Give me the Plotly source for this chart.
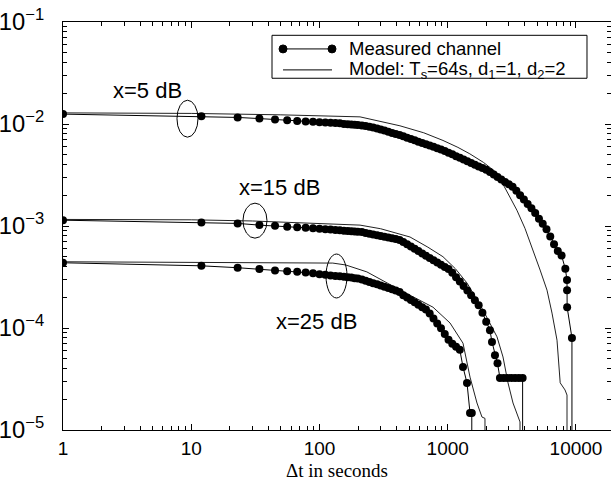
import math
import plotly.graph_objects as go

# ---------------- data ----------------
# Measured channel, x = 5 dB
t_meas_5 = [1, 12, 23, 34, 45, 56, 67, 78, 89, 100, 111, 122, 133, 144, 155, 166, 177, 188, 199,
            214, 229, 245, 262, 281, 300, 321, 344, 368, 393, 421, 450, 482, 516, 552, 590, 632,
            676, 723, 774, 828, 886, 948, 1014, 1085, 1161, 1242, 1329, 1422, 1522, 1628, 1742,
            1864, 1995, 2134, 2284, 2444, 2615, 2798, 2994, 3203, 3428, 3667, 3924, 4199, 4493,
            4807, 5144, 5504, 5889, 6301, 6742, 7214, 7719, 8260, 8510, 8520, 8530, 9300]
v_meas_5 = [1.25e-2, 1.19e-2, 1.16e-2, 1.13e-2, 1.11e-2, 1.09e-2, 1.07e-2, 1.06e-2, 1.05e-2,
            1.04e-2, 1.035e-2, 1.03e-2, 1.02e-2, 1.015e-2, 1.0e-2, 9.95e-3, 9.9e-3, 9.85e-3, 9.78e-3,
            9.66e-3, 9.55e-3, 9.40e-3, 9.23e-3, 9.04e-3, 8.85e-3, 8.63e-3, 8.39e-3, 8.17e-3, 7.96e-3,
            7.78e-3, 7.57e-3, 7.35e-3, 7.13e-3, 6.92e-3, 6.71e-3, 6.52e-3, 6.32e-3, 6.15e-3,
            5.97e-3, 5.79e-3, 5.62e-3, 5.45e-3, 5.24e-3, 5.04e-3, 4.84e-3, 4.66e-3, 4.48e-3,
            4.32e-3, 4.15e-3, 3.99e-3, 3.84e-3, 3.70e-3, 3.56e-3, 3.38e-3, 3.19e-3, 3.02e-3,
            2.86e-3, 2.70e-3, 2.56e-3, 2.42e-3, 2.21e-3, 2.00e-3, 1.82e-3, 1.64e-3, 1.49e-3,
            1.34e-3, 1.18e-3, 1.05e-3, 9.27e-4, 7.89e-4, 6.64e-4, 5.69e-4, 5.13e-4, 3.8e-4,
            2.95e-4, 2.35e-4, 1.6e-4, 8.0e-5]

# Measured channel, x = 15 dB
t_meas_15 = [1, 12, 23, 34, 45, 56, 67, 78, 89, 100, 111, 122, 133, 144, 155, 166, 177, 188, 199,
             214, 229, 245, 262, 281, 300, 321, 344, 368, 393, 421, 450, 482, 516, 552, 590, 632,
             676, 723, 774, 828, 886, 948, 1014, 1085, 1161, 1242, 1329, 1422, 1522, 1628, 1742,
             1864, 1995, 2134, 2213, 2335, 2444, 2553, 2734, 2926, 3131, 3350, 3585, 3836]
v_meas_15 = [1.14e-3, 1.08e-3, 1.06e-3, 1.02e-3, 1.005e-3, 9.85e-4, 9.7e-4, 9.6e-4, 9.5e-4,
             9.4e-4, 9.3e-4, 9.25e-4, 9.15e-4, 9.1e-4, 9.0e-4, 8.95e-4, 8.9e-4, 8.85e-4, 8.8e-4,
             8.71e-4, 8.55e-4, 8.39e-4, 8.26e-4, 8.11e-4, 7.98e-4, 7.83e-4, 7.71e-4, 7.57e-4,
             7.45e-4, 7.31e-4, 6.98e-4, 6.62e-4, 6.28e-4, 5.97e-4, 5.68e-4, 5.38e-4, 5.12e-4,
             4.86e-4, 4.61e-4, 4.39e-4, 4.18e-4, 3.97e-4, 3.78e-4, 3.49e-4, 3.15e-4, 2.85e-4,
             2.58e-4, 2.33e-4, 2.09e-4, 1.87e-4, 1.67e-4, 1.41e-4, 1.15e-4, 9.5e-5, 7.3e-5, 5.4e-5,
             4.5e-5, 3.24e-5, 3.24e-5, 3.24e-5, 3.24e-5, 3.24e-5, 3.24e-5, 3.24e-5]

# Measured channel, x = 25 dB
t_meas_25 = [1, 12, 23, 34, 45, 56, 67, 78, 89, 100, 111, 122, 133, 144, 155, 166, 177, 188, 199,
             214, 229, 245, 262, 281, 300, 321, 344, 368, 393, 421, 450, 482, 516, 552, 590, 632,
             676, 723, 774, 828, 886, 948, 1014, 1085, 1161, 1242, 1315, 1413, 1492, 1540]
v_meas_25 = [4.36e-4, 4.07e-4, 3.9e-4, 3.78e-4, 3.67e-4, 3.61e-4, 3.56e-4, 3.5e-4, 3.45e-4,
             3.36e-4, 3.32e-4, 3.28e-4, 3.24e-4, 3.21e-4, 3.18e-4, 3.15e-4, 3.12e-4, 3.08e-4, 3.05e-4,
             2.99e-4, 2.90e-4, 2.82e-4, 2.75e-4, 2.68e-4, 2.61e-4, 2.54e-4, 2.47e-4, 2.40e-4,
             2.33e-4, 2.25e-4, 2.10e-4, 1.99e-4, 1.88e-4, 1.79e-4, 1.69e-4, 1.60e-4, 1.52e-4,
             1.39e-4, 1.24e-4, 1.11e-4, 9.93e-5, 8.71e-5, 7.67e-5, 7.01e-5, 6.55e-5, 6.12e-5,
             4.15e-5, 2.89e-5, 1.47e-5, 1.47e-5]

# Model: Ts=64s, d1=1, d2=2
t_mod_5 = [1, 10, 50, 100, 207, 424, 650, 918, 1200, 1487, 1900, 2425, 2900, 3460, 4000, 4624,
           5250, 5943, 6500, 7112, 7530, 8210, 8510]
v_mod_5 = [1.285e-2, 1.27e-2, 1.23e-2, 1.2e-2, 1.175e-2, 9.6e-3, 8.2e-3, 6.9e-3, 5.9e-3, 5.1e-3,
           4.2e-3, 3.3e-3, 2.2e-3, 1.43e-3, 9.5e-4, 5.8e-4, 3.7e-4, 2.35e-4, 1.4e-4, 7.6e-5,
           2.9e-5, 2.47e-5, 2.2e-5]

t_mod_15 = [1, 10, 30, 60, 100, 207, 300, 508, 700, 918, 1150, 1413, 1884, 2421, 2697, 2951,
            3228, 3532, 3660]
v_mod_15 = [1.16e-3, 1.15e-3, 1.12e-3, 1.08e-3, 1.05e-3, 1.02e-3, 9.4e-4, 7.8e-4, 6.2e-4, 5.0e-4,
            3.8e-4, 2.76e-4, 1.5e-4, 8.2e-5, 5.2e-5, 2.9e-5, 1.84e-5, 1.34e-5, 1.2e-5]

t_mod_25 = [1, 10, 50, 127, 160, 234, 424, 767, 1042, 1315, 1492, 1690, 1849, 1951]
v_mod_25 = [4.46e-4, 4.42e-4, 4.38e-4, 4.33e-4, 4.15e-4, 3.55e-4, 2.36e-4, 1.6e-4, 1.12e-4,
            7.1e-5, 3.3e-5, 1.84e-5, 1.34e-5, 1.3e-5]

ZERO_LEVEL = 1e-7   # value that the curves fall to (below the axis)

labels = ["x=5 dB", "x=15 dB", "x=25 dB"]
# label centres (t, value) and ellipse boxes (t0, t1, v0, v1)
label_pos = [(4.52, 2.14e-2), (49.2, 2.4e-3), (94.0, 1.15e-4)]
ellipses = [(7.74, 11.29, 7.43e-3, 1.71e-2),
            (25.3, 38.96, 7.6e-4, 1.675e-3),
            (112.4, 163.9, 1.97e-4, 5.31e-4)]

x_ticks = [1, 10, 100, 1000, 10000]

MEAS_NAME = "Measured channel"
MODEL_NAME = "Model: T<sub>s</sub>=64s, d<sub>1</sub>=1, d<sub>2</sub>=2"

# ---------------- figure ----------------
fig = go.Figure()

models = [(t_mod_5, v_mod_5), (t_mod_15, v_mod_15), (t_mod_25, v_mod_25)]
for i, (t, v) in enumerate(models):
    fig.add_trace(go.Scatter(
        x=t + [t[-1]], y=v + [ZERO_LEVEL], mode="lines",
        line=dict(color="#222222", width=1),
        name="Model: Ts=64s, d1=1, d2=2", showlegend=False))

measured = [(t_meas_5, v_meas_5), (t_meas_15, v_meas_15), (t_meas_25, v_meas_25)]
for i, (t, v) in enumerate(measured):
    fig.add_trace(go.Scatter(
        x=[t[-1], t[-1]], y=[v[-1], ZERO_LEVEL], mode="lines",
        line=dict(color="black", width=1), showlegend=False, hoverinfo="skip"))
    fig.add_trace(go.Scatter(
        x=t, y=v, mode="lines+markers",
        line=dict(color="black", width=1),
        marker=dict(color="black", size=8),
        name=MEAS_NAME, showlegend=False))

for txt, (lx, ly) in zip(labels, label_pos):
    fig.add_annotation(x=math.log10(lx), y=math.log10(ly), text=txt, showarrow=False,
                       xanchor="center", yanchor="middle",
                       font=dict(family="Liberation Sans, Arial", size=22, color="black"))

for (x0, x1, y0, y1) in ellipses:
    fig.add_shape(type="circle", xref="x", yref="y", x0=x0, x1=x1, y0=y0, y1=y1,
                  line=dict(color="black", width=1))

# ---- legend box (drawn by hand, paper coordinates of the plot area) ----
LEG_BOX = (0.3814, 0.9562, 0.8621, 0.9674)
LEG_ROWS = [0.934, 0.8826]
LEG_LINE = (0.4015, 0.4909)
LEG_TEXT_X = 0.5182
fig.add_shape(type="rect", xref="paper", yref="paper",
              x0=LEG_BOX[0], x1=LEG_BOX[1], y0=LEG_BOX[2], y1=LEG_BOX[3],
              fillcolor="white", line=dict(color="black", width=1), layer="above")
for j, name in enumerate([MEAS_NAME, MODEL_NAME]):
    yy = LEG_ROWS[j]
    fig.add_shape(type="line", xref="paper", yref="paper",
                  x0=LEG_LINE[0], x1=LEG_LINE[1], y0=yy, y1=yy,
                  line=dict(color="black", width=1), layer="above")
    if j == 0:
        for xx in LEG_LINE:
            fig.add_shape(type="circle", xref="paper", yref="paper",
                          xsizemode="pixel", ysizemode="pixel", xanchor=xx, yanchor=yy,
                          x0=-4, x1=4, y0=-4, y1=4,
                          fillcolor="black", line=dict(color="black", width=1), layer="above")
    fig.add_annotation(xref="paper", yref="paper", x=LEG_TEXT_X, y=yy, text=name,
                       showarrow=False, xanchor="left", yanchor="middle",
                       font=dict(family="Liberation Sans, Arial", size=18.5, color="black"))

axis_common = dict(
    type="log", showline=True, linecolor="black", linewidth=1, mirror="ticks",
    ticks="inside", ticklen=6, tickcolor="black", tickwidth=1,
    showgrid=False, zeroline=False,
    minor=dict(dtick="D1", ticks="inside", ticklen=4, tickcolor="black", showgrid=False),
    tickfont=dict(family="Liberation Sans, Arial", size=19, color="black"),
)

fig.update_layout(
    width=611, height=481,
    margin=dict(l=63, r=0, t=22, b=51),
    paper_bgcolor="white", plot_bgcolor="white",
    font=dict(family="Liberation Sans, Arial", size=18, color="black"),
    xaxis=dict(axis_common, range=[0, 4.273], tickvals=x_ticks,
               ticktext=[str(v) for v in x_ticks], ticklabelstandoff=1,
               automargin=False,
               title=dict(text="Δt in seconds",
                          font=dict(family="Liberation Serif, Times New Roman", size=19),
                          standoff=14)),
    yaxis=dict(axis_common, range=[-5, -1], dtick=1, exponentformat="power",
               ticklabelstandoff=14, automargin=False),
    showlegend=False,
)

fig.write_html("out.html")
